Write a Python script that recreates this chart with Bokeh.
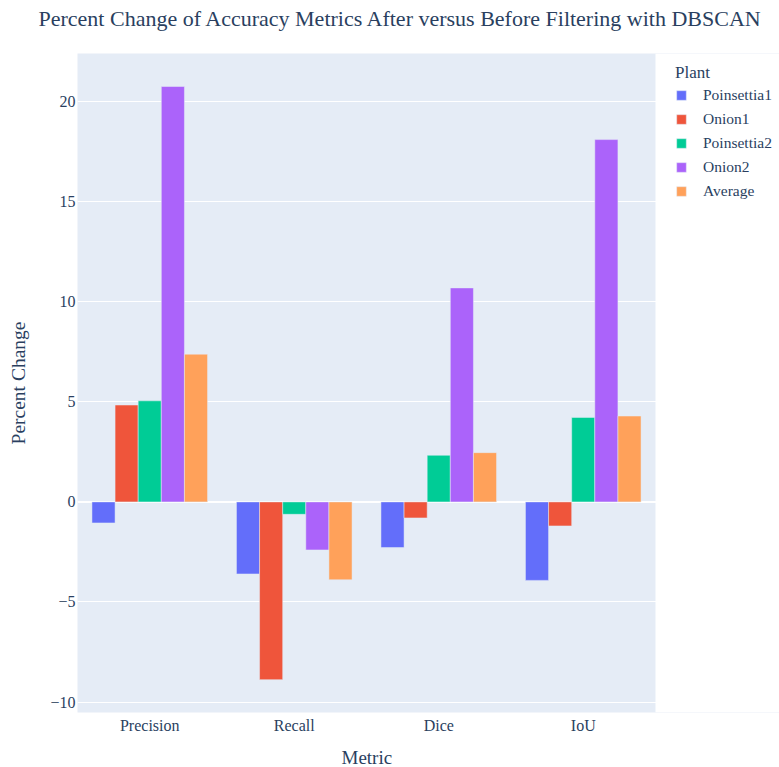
from bokeh.plotting import figure
from bokeh.models import (ColumnDataSource, Legend, LegendItem, CustomJSTickFormatter, FixedTicker,
                          Range1d, BoxAnnotation, Span, Title)
from bokeh.embed import file_html
from bokeh.resources import INLINE

metrics = ["Precision", "Recall", "Dice", "IoU"]
plants = ["Poinsettia1", "Onion1", "Poinsettia2", "Onion2", "Average"]
poinsettia1 = [-1.05, -3.6, -2.28, -3.92]
onion1 = [4.84, -8.88, -0.8, -1.2]
poinsettia2 = [5.05, -0.62, 2.33, 4.22]
onion2 = [20.75, -2.4, 10.69, 18.1]
average = [7.38, -3.89, 2.46, 4.29]
y_ticks = [-10, -5, 0, 5, 10, 15, 20]

colors = ["#636efa", "#EF553B", "#00cc96", "#ab63fa", "#FFA15A"]
series = [poinsettia1, onion1, poinsettia2, onion2, average]

FONT = "Liberation Serif"
TXT = "#2a3f5f"

n = len(metrics)
centers = [i + 0.5 for i in range(n)]
# legend area to the right of the plotting region, expressed in category units
x_end = n + 124 / 144.5

p = figure(x_range=Range1d(0, x_end), y_range=Range1d(-10.52, 22.4),
           width=779, height=767, output_backend="svg", toolbar_location=None,
           min_border_left=77, min_border_right=0, min_border_top=53, min_border_bottom=54)

p.background_fill_color = "#e5ecf6"
p.border_fill_color = "white"
p.outline_line_color = None

bw = 0.16
offsets = [-0.32, -0.16, 0.0, 0.16, 0.32]
items = []
for pl, vals, col, off in zip(plants, series, colors, offsets):
    src = ColumnDataSource(dict(x=[c + off for c in centers], top=vals))
    r = p.vbar(x="x", top="top", bottom=0, width=bw, source=src,
               fill_color=col, line_color="#e5ecf6", line_width=0.5)
    items.append(LegendItem(label=pl, renderers=[r]))

p.xgrid.grid_line_color = None
p.ygrid.grid_line_color = "white"
p.ygrid.grid_line_width = 1
p.add_layout(Span(location=0, dimension="width", line_color="white", line_width=2, level="underlay"))

# white area to the right of the plotting region (legend space)
p.add_layout(BoxAnnotation(left=n, fill_color="white", fill_alpha=1, line_color=None, level="annotation"))

p.yaxis.ticker = FixedTicker(ticks=y_ticks)
p.yaxis.formatter = CustomJSTickFormatter(code="return tick < 0 ? '\u2212' + Math.abs(tick) : String(tick);")
p.xaxis.ticker = FixedTicker(ticks=centers)
p.xaxis.formatter = CustomJSTickFormatter(args=dict(labels=metrics),
                                          code="return labels[Math.floor(tick)];")

for ax in (p.xaxis[0], p.yaxis[0]):
    ax.axis_line_color = None
    ax.major_tick_line_color = None
    ax.minor_tick_line_color = None
    ax.major_tick_out = 0
    ax.major_tick_in = 0
    ax.minor_tick_out = 0
    ax.minor_tick_in = 0
    ax.major_label_text_font = FONT
    ax.major_label_text_color = TXT
    ax.major_label_text_font_size = "16px"
    ax.axis_label_text_font = FONT
    ax.axis_label_text_color = TXT
    ax.axis_label_text_font_size = "19.5px"
    ax.axis_label_text_font_style = "normal"

p.yaxis.axis_label = "Percent Change"
p.xaxis.major_label_standoff = 4
p.yaxis.major_label_standoff = 2
p.yaxis.axis_label_standoff = 18

# x-axis title, centred under the plotting region
xlabel = Title(text="Metric", align="left", offset=264, text_font=FONT, text_font_size="19px",
               text_font_style="normal", text_color=TXT, standoff=0,
               padding=dict(left=0, right=0, top=8, bottom=0))
p.add_layout(xlabel, "below")

p.title.text = "Percent Change of Accuracy Metrics After versus Before Filtering with DBSCAN"
p.title.text_font = FONT
p.title.text_font_size = "22px"
p.title.text_font_style = "normal"
p.title.text_color = TXT
p.title.align = "left"
p.title.offset = -39
p.title.standoff = 2
p.title.padding = dict(left=0, right=0, top=0, bottom=22)

legend = Legend(items=items, title="Plant", location=(598, 512),
                glyph_width=12, glyph_height=12, label_height=19, spacing=5,
                label_standoff=16, padding=3, margin=0,
                label_text_font=FONT, label_text_font_size="15.5px", label_text_color=TXT,
                title_text_font=FONT, title_text_font_size="17px", title_text_color=TXT,
                title_text_font_style="normal", title_standoff=2,
                background_fill_alpha=0, border_line_color=None)
p.add_layout(legend, "center")

open("out.html", "w").write(file_html(p, INLINE))
